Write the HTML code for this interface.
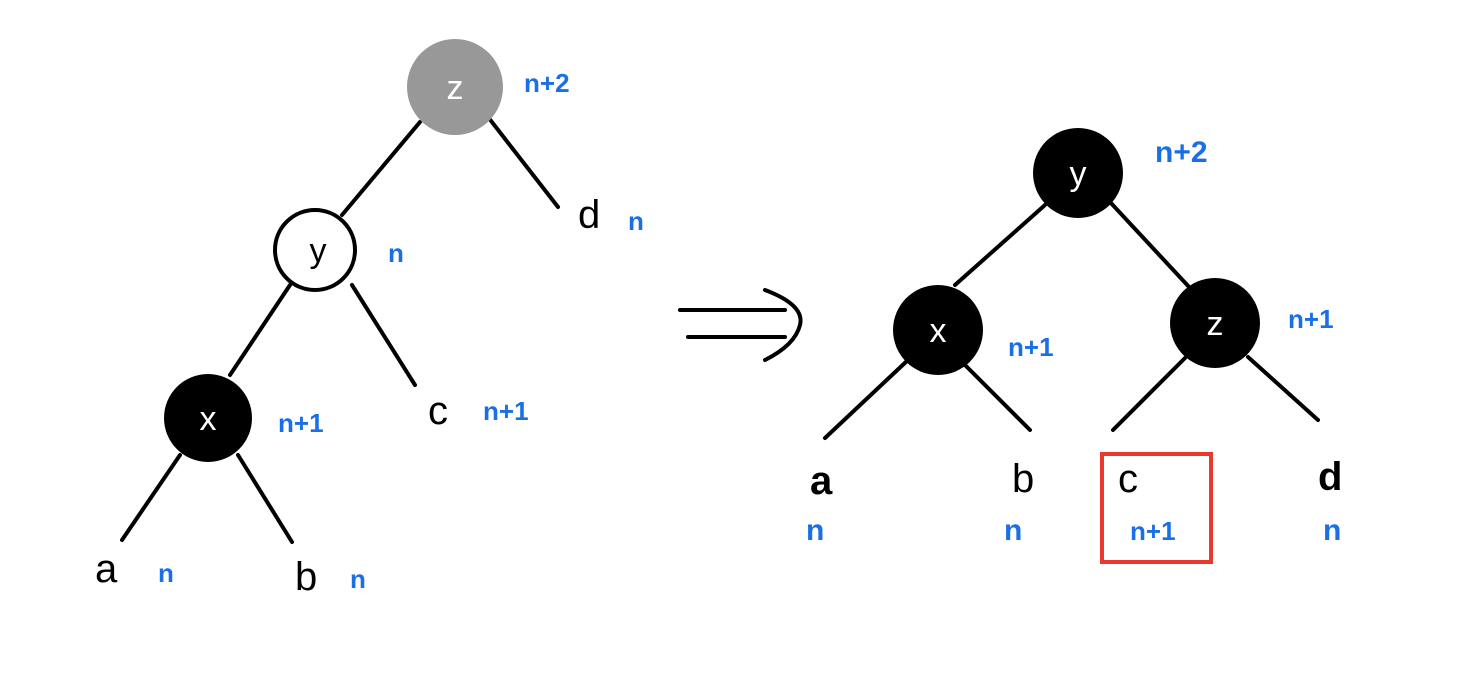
<!DOCTYPE html>
<html><head><meta charset="utf-8"><style>
html,body{margin:0;padding:0;background:#fff;}
svg{display:block;}
text{font-family:"Liberation Sans",sans-serif;}
.k{font-size:40px;fill:#000;}
.b{font-size:26px;fill:#1a6fe8;font-weight:bold;}
.w{font-size:34px;fill:#fff;}
</style></head><body>
<svg width="1462" height="687" viewBox="0 0 1462 687" xmlns="http://www.w3.org/2000/svg">
<g stroke="#000" stroke-width="4" stroke-linecap="round" fill="none">
<line x1="420" y1="122" x2="342" y2="215"/>
<line x1="488" y1="117" x2="558" y2="207"/>
<line x1="290" y1="285" x2="230" y2="375"/>
<line x1="352" y1="285" x2="415" y2="385"/>
<line x1="180" y1="455" x2="122" y2="540"/>
<line x1="238" y1="455" x2="292" y2="542"/>
<line x1="680" y1="310" x2="785" y2="310"/>
<line x1="688" y1="337" x2="785" y2="337"/>
<path d="M765 290 Q805 305 800 325 Q795 345 765 360"/>
<line x1="1045" y1="205" x2="955" y2="285"/>
<line x1="1110" y1="202" x2="1190" y2="288"/>
<line x1="908" y1="360" x2="825" y2="438"/>
<line x1="962" y1="362" x2="1030" y2="430"/>
<line x1="1185" y1="358" x2="1113" y2="430"/>
<line x1="1248" y1="357" x2="1318" y2="420"/>
</g>
<circle cx="455" cy="87" r="48" fill="#989898"/>
<text x="455" y="99" class="w" text-anchor="middle">z</text>
<circle cx="315" cy="250" r="40" fill="#fff" stroke="#000" stroke-width="4"/>
<text x="318" y="262" class="k" text-anchor="middle" style="font-size:34px">y</text>
<circle cx="208" cy="418" r="44" fill="#000"/>
<text x="208" y="430" class="w" text-anchor="middle">x</text>
<text x="578" y="228" class="k">d</text>
<text x="628" y="230" class="b">n</text>
<text x="428" y="424" class="k">c</text>
<text x="483" y="420" class="b">n+1</text>
<text x="95" y="582" class="k">a</text>
<text x="158" y="582" class="b">n</text>
<text x="295" y="590" class="k">b</text>
<text x="350" y="588" class="b">n</text>
<text x="524" y="92" class="b">n+2</text>
<text x="388" y="262" class="b">n</text>
<text x="278" y="432" class="b">n+1</text>

<circle cx="1078" cy="173" r="45" fill="#000"/>
<text x="1078" y="185" class="w" text-anchor="middle">y</text>
<circle cx="938" cy="330" r="45" fill="#000"/>
<text x="938" y="342" class="w" text-anchor="middle">x</text>
<circle cx="1215" cy="323" r="45" fill="#000"/>
<text x="1215" y="335" class="w" text-anchor="middle">z</text>
<text x="1155" y="162" class="b" style="font-size:30px">n+2</text>
<text x="1008" y="356" class="b">n+1</text>
<text x="1288" y="328" class="b">n+1</text>
<text x="810" y="494" class="k" style="font-weight:bold">a</text>
<text x="1012" y="492" class="k">b</text>
<text x="1118" y="492" class="k">c</text>
<text x="1318" y="490" class="k" style="font-weight:bold">d</text>
<text x="806" y="540" class="b" style="font-size:30px">n</text>
<text x="1004" y="540" class="b" style="font-size:30px">n</text>
<text x="1130" y="540" class="b">n+1</text>
<text x="1323" y="540" class="b" style="font-size:30px">n</text>
<rect x="1102" y="454" width="109" height="108" fill="none" stroke="#e8392a" stroke-width="4"/>
</svg>
</body></html>
